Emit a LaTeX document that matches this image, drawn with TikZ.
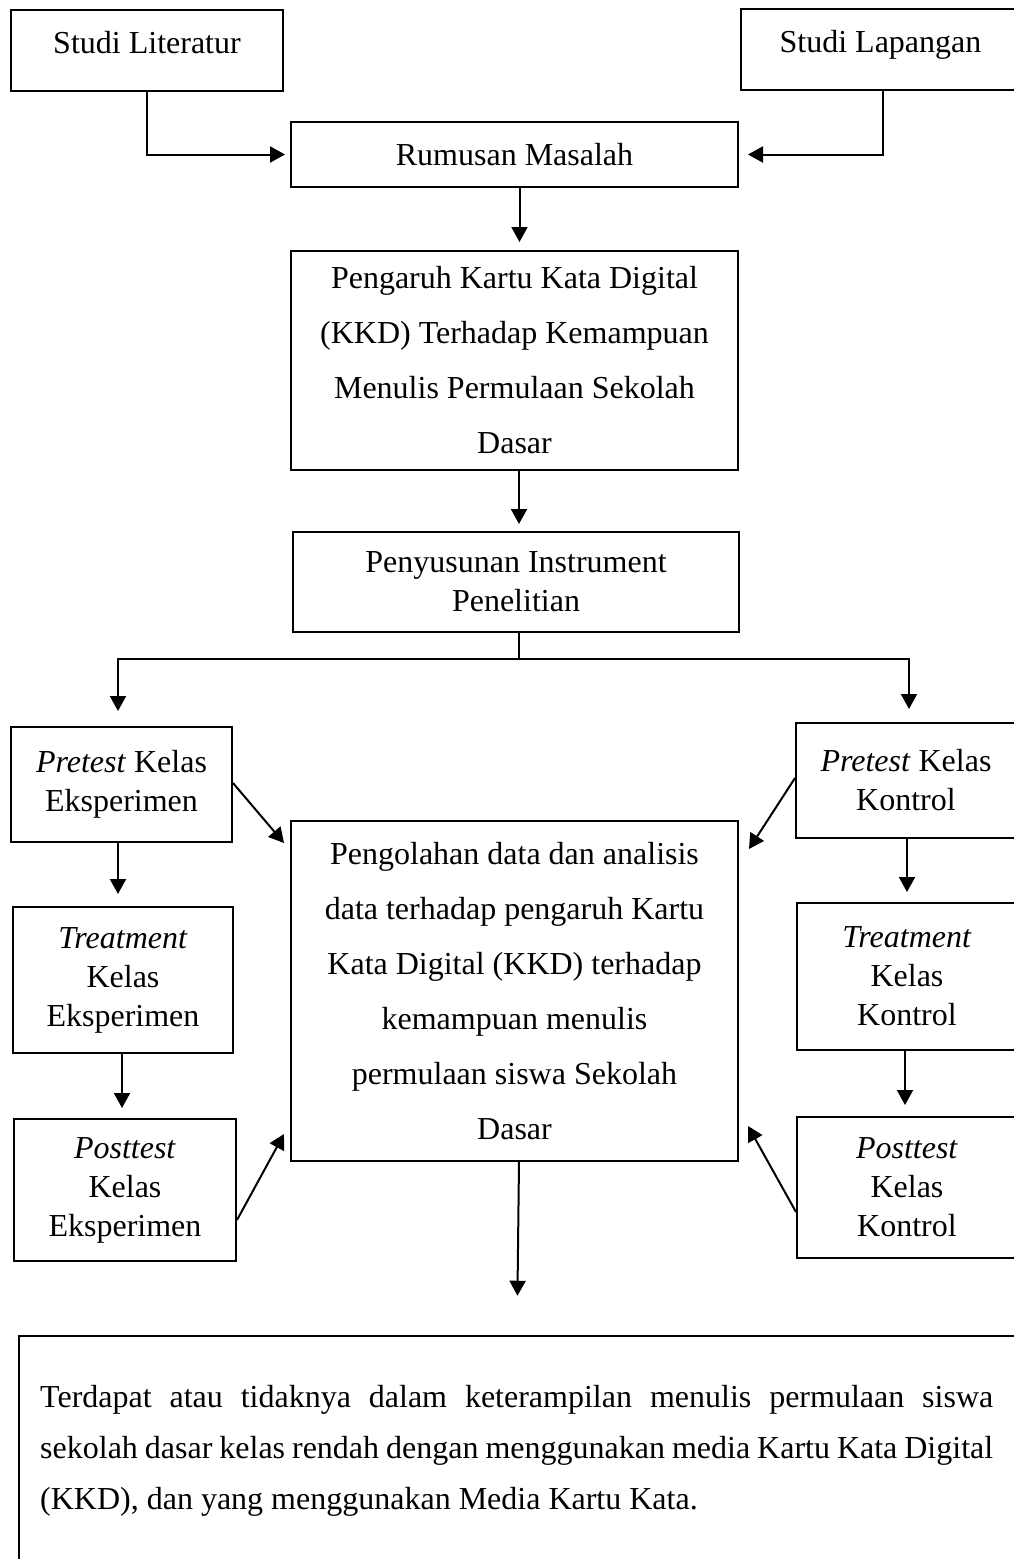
\documentclass[tikz,border=0pt]{standalone}
\usepackage{fontspec}
\setmainfont{Liberation Serif}
\usetikzlibrary{arrows.meta,calc}
\begin{document}
\begin{tikzpicture}[x=1pt,y=-1pt,
  box/.style={draw, line width=2pt, rectangle, inner sep=0pt, align=center, font=\fontsize{32}{39}\selectfont},
  wide/.style={font=\fontsize{32}{55}\selectfont},
  arr/.style={line width=2pt, -{Triangle[length=15pt,width=16pt]}},
  conn/.style={line width=2pt}]
\fill[white] (0,0) rectangle (1014,1559);
\useasboundingbox (0,0) rectangle (1014,1559);

% boxes
\node[box, minimum width=272pt, minimum height=81pt, text height=25pt, text depth=20pt] (lit) at (147,50.5) {Studi Literatur};
\node[box, minimum width=279pt, minimum height=81pt, text height=25pt, text depth=20pt] (lap) at (880.5,49.5) {Studi Lapangan};
\node[box, minimum width=447pt, minimum height=65pt] (rum) at (514.5,154.5) {Rumusan Masalah};
\node[box, wide, minimum width=447pt, minimum height=219pt] (pen) at (514.5,360.5) {Pengaruh Kartu Kata Digital\\(KKD) Terhadap Kemampuan\\Menulis Permulaan Sekolah\\Dasar};
\node[box, minimum width=446pt, minimum height=100pt] (pny) at (516,582) {Penyusunan Instrument\\Penelitian};
\node[box, minimum width=221pt, minimum height=115pt] (pe) at (121.5,784.5) {\textit{Pretest} Kelas\\Eksperimen};
\node[box, minimum width=220pt, minimum height=115pt] (pk) at (906,780.5) {\textit{Pretest} Kelas\\Kontrol};
\node[box, minimum width=220pt, minimum height=146pt] (te) at (123,980) {\textit{Treatment}\\Kelas\\Eksperimen};
\node[box, minimum width=220pt, minimum height=147pt] (tk) at (907,976.5) {\textit{Treatment}\\Kelas\\Kontrol};
\node[box, minimum width=222pt, minimum height=142pt] (qe) at (125,1190) {\textit{Posttest}\\Kelas\\Eksperimen};
\node[box, minimum width=220pt, minimum height=141pt] (qk) at (907,1187.5) {\textit{Posttest}\\Kelas\\Kontrol};
\node[box, wide, minimum width=447pt, minimum height=340pt] (ctr) at (514.5,991) {Pengolahan data dan analisis\\data terhadap pengaruh Kartu\\Kata Digital (KKD) terhadap\\kemampuan menulis\\permulaan siswa Sekolah\\Dasar};
\node[draw, line width=2.5pt, minimum width=1021pt, minimum height=264pt, inner sep=0pt] (bot) at (529.5,1468) {};
\node[font=\fontsize{32}{51}\selectfont, text width=953pt, align=justify, inner sep=0pt, anchor=west] (botT) at (40,1451) {\hyphenpenalty=10000 \tolerance=10000 Terdapat atau tidaknya dalam keterampilan menulis permulaan siswa\linebreak sekolah dasar kelas rendah dengan menggunakan media Kartu Kata Digital\linebreak (KKD), dan yang menggunakan Media Kartu Kata.};

% connectors
\draw[arr, shorten >=5pt] (lit.south) |- (rum.west);
\draw[arr, shorten >=9pt] ([xshift=2.5pt]lap.south) |- (rum.east);
\draw[arr, shorten >=8pt] ([xshift=5pt]rum.south) -- ([xshift=5pt]pen.north);
\draw[arr, shorten >=7pt] ([xshift=4.5pt]pen.south) -- ([xshift=3pt]pny.north);
\draw[conn] ([xshift=3pt]pny.south) -- ++(0,26) coordinate (br);
\draw[arr, shorten >=15pt] (br) -| ([xshift=-3.5pt]pe.north);
\draw[arr, shorten >=13pt] (br) -| ([xshift=3pt]pk.north);

\draw[arr] ([yshift=1.5pt]pe.east) -- ($(ctr.north west)+(-6,23)$);
\draw[arr] ([yshift=2.5pt]pk.west) -- ($(ctr.north east)+(10,29)$);
\draw[arr] ($(qe.east)+(0,30)$) -- ($(ctr.south west)+(-6,-28)$);
\draw[arr] ($(qk.west)+(0,24.5)$) -- ($(ctr.south east)+(9,-36)$);

\draw[arr, shorten >=12pt] ([xshift=-3.5pt]pe.south) -- ([xshift=-3.5pt]pe.south |- te.north);
\draw[arr, shorten >=10pt] ([xshift=-1pt]te.south) -- ([xshift=-1pt]te.south |- qe.north);
\draw[arr, shorten >=10pt] ([xshift=1pt]pk.south) -- ([xshift=1pt]pk.south |- tk.north);
\draw[arr, shorten >=11pt] ([xshift=-2pt]tk.south) -- ([xshift=-2pt]tk.south |- qk.north);
\draw[arr, shorten >=39pt] ([xshift=4.5pt]ctr.south) -- ([xshift=2.5pt]ctr.south |- bot.north);
\end{tikzpicture}
\end{document}
